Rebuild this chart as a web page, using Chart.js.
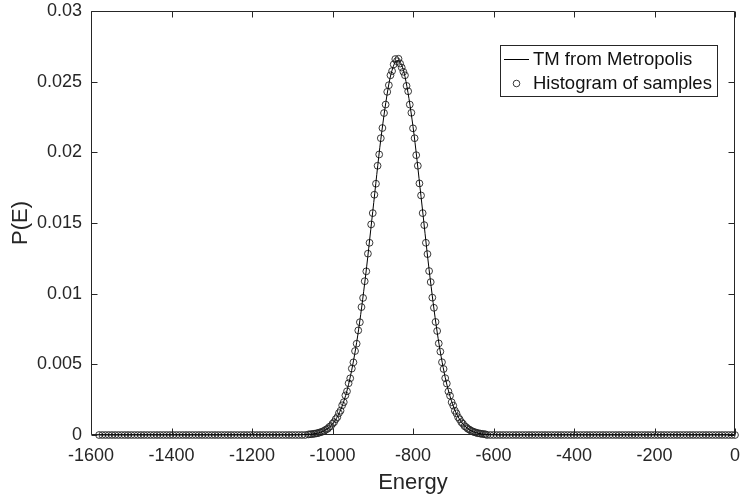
<!DOCTYPE html>
<html>
<head>
<meta charset="utf-8">
<script src="https://cdn.jsdelivr.net/npm/chart.js@4.4.1/dist/chart.umd.min.js"></script>
<style>
html,body{margin:0;padding:0;background:#fff;}
#wrap{width:740px;height:496px;}
</style>
</head>
<body>
<div id="wrap"><canvas id="c" width="740" height="496"></canvas></div>
<script>
// ---------------- DATA ----------------
const seriesNames = ['TM from Metropolis', 'Histogram of samples'];

const xTickValues = [-1600, -1400, -1200, -1000, -800, -600, -400, -200, 0];
const xTickLabels = ['-1600', '-1400', '-1200', '-1000', '-800', '-600', '-400', '-200', '0'];
const yTickValues = [0, 0.005, 0.01, 0.015, 0.02, 0.025, 0.03];
const yTickLabels = ['0', '0.005', '0.01', '0.015', '0.02', '0.025', '0.03'];

// "TM from Metropolis" curve
const lineEnergy = [-1580, -1100, -1060, -1040, -1020, -1000, -980, -960, -940, -920, -900, -880, -860, -850, -840, -830, -820, -800, -780, -760, -740, -720, -700, -680, -660, -640, -620, -580, 0];
const lineProb = [0, 0, 0.00004, 0.00011, 0.00031, 0.00078, 0.00176, 0.00359, 0.00655, 0.01074, 0.01581, 0.02091, 0.02483, 0.02599, 0.02649, 0.02627, 0.02537, 0.02183, 0.01686, 0.01170, 0.00729, 0.00408, 0.00205, 0.00093, 0.00038, 0.00014, 0.00004, 0, 0];

// Histogram of samples: left tail (all ~0)
const histLeftEnergy = [
  -1580,-1572,-1564,-1556,-1548,-1540,-1532,-1524,-1516,-1508,
  -1500,-1492,-1484,-1476,-1468,-1460,-1452,-1444,-1436,-1428,
  -1420,-1412,-1404,-1396,-1388,-1380,-1372,-1364,-1356,-1348,
  -1340,-1332,-1324,-1316,-1308,-1300,-1292,-1284,-1276,-1268,
  -1260,-1252,-1244,-1236,-1228,-1220,-1212,-1204,-1196,-1188,
  -1180,-1172,-1164,-1156,-1148,-1140,-1132,-1124,-1116,-1108,
  -1100,-1092,-1084,-1076,-1068];
const histLeftProb = [
  0,0,0,0,0,0,0,0,0,0,
  0,0,0,0,0,0,0,0,0,0,
  0,0,0,0,0,0,0,0,0,0,
  0,0,0,0,0,0,0,0,0,0,
  0,0,0,0,0,0,0,0,0,0,
  0,0,0,0,0,0,0,0,0,0,
  0,0,0,0,0];

// Histogram of samples: peak region
const histCoreEnergy = [
  -1060,-1056,-1052,-1048,-1044,-1040,-1036,-1032,-1028,-1024,
  -1020,-1016,-1012,-1008,-1004,-1000,-996,-992,-988,-984,
  -980,-976,-972,-968,-964,-960,-956,-952,-948,-944,
  -940,-936,-932,-928,-924,-920,-916,-912,-908,-904,
  -900,-896,-892,-888,-884,-880,-876,-872,-868,-864,
  -860,-856,-852,-848,-844,-840,-836,-832,-828,-824,
  -820,-816,-812,-808,-804,-800,-796,-792,-788,-784,
  -780,-776,-772,-768,-764,-760,-756,-752,-748,-744,
  -740,-736,-732,-728,-724,-720,-716,-712,-708,-704,
  -700,-696,-692,-688,-684,-680,-676,-672,-668,-664,
  -660,-656,-652,-648,-644,-640,-636,-632,-628,-624,
  -620];
const histCoreProb = [
  0.00004,0.00005,0.00006,0.00008,0.00009,0.00012,0.00013,0.00018,0.00020,0.00026,
  0.00030,0.00039,0.00044,0.00057,0.00063,0.00080,0.00091,0.00112,0.00126,0.00155,
  0.00172,0.00210,0.00232,0.00280,0.00309,0.00366,0.00401,0.00470,0.00514,0.00594,
  0.00646,0.00740,0.00798,0.00905,0.00970,0.01088,0.01158,0.01283,0.01360,0.01490,
  0.01570,0.01700,0.01778,0.01905,0.01985,0.02100,0.02172,0.02278,0.02338,0.02428,
  0.02475,0.02545,0.02575,0.02622,0.02660,0.02645,0.02662,0.02628,0.02600,0.02570,
  0.02545,0.02470,0.02432,0.02338,0.02280,0.02170,0.02100,0.01980,0.01905,0.01780,
  0.01695,0.01570,0.01485,0.01360,0.01280,0.01160,0.01082,0.00972,0.00900,0.00800,
  0.00736,0.00648,0.00590,0.00515,0.00467,0.00402,0.00364,0.00308,0.00278,0.00232,
  0.00208,0.00172,0.00153,0.00126,0.00111,0.00091,0.00080,0.00063,0.00056,0.00044,
  0.00039,0.00030,0.00026,0.00020,0.00018,0.00013,0.00012,0.00009,0.00008,0.00006,
  0.00005];

// Histogram of samples: right tail (all ~0)
const histRightEnergy = [
  -616,-608,-600,-592,-584,-576,-568,-560,-552,-544,
  -536,-528,-520,-512,-504,-496,-488,-480,-472,-464,
  -456,-448,-440,-432,-424,-416,-408,-400,-392,-384,
  -376,-368,-360,-352,-344,-336,-328,-320,-312,-304,
  -296,-288,-280,-272,-264,-256,-248,-240,-232,-224,
  -216,-208,-200,-192,-184,-176,-168,-160,-152,-144,
  -136,-128,-120,-112,-104,-96,-88,-80,-72,-64,
  -56,-48,-40,-32,-24,-16,-8,0];
const histRightProb = [
  0,0,0,0,0,0,0,0,0,0,
  0,0,0,0,0,0,0,0,0,0,
  0,0,0,0,0,0,0,0,0,0,
  0,0,0,0,0,0,0,0,0,0,
  0,0,0,0,0,0,0,0,0,0,
  0,0,0,0,0,0,0,0,0,0,
  0,0,0,0,0,0,0,0,0,0,
  0,0,0,0,0,0,0,0];

// ---------------- BUILD ----------------
const FONT = "'Liberation Sans', Arial, Helvetica, sans-serif";
const AXIS = '#262626';

function pairs(xs, ys) { return xs.map((x, i) => ({ x: x, y: ys[i] })); }
const lineData = pairs(lineEnergy, lineProb);
const histData = pairs(histLeftEnergy, histLeftProb)
  .concat(pairs(histCoreEnergy, histCoreProb))
  .concat(pairs(histRightEnergy, histRightProb));

function zeroPad(s) { s.paddingTop = 0; s.paddingBottom = 0; s.paddingLeft = 0; s.paddingRight = 0; }

const boxPlugin = {
  id: 'matlabBox',
  beforeDatasetsDraw(chart) {
    const { ctx, chartArea: a, scales } = chart;
    const L = Math.round(a.left) + 0.5, R = Math.round(a.right) - 0.5;
    const T = Math.round(a.top) + 0.5, B = Math.round(a.bottom) - 0.5;
    ctx.save();
    ctx.strokeStyle = AXIS;
    ctx.lineWidth = 1;
    ctx.beginPath();
    ctx.rect(L, T, R - L, B - T);
    const tl = 6;
    xTickValues.forEach(v => {
      const px = Math.round(scales.x.getPixelForValue(v)) + 0.5;
      ctx.moveTo(px, B); ctx.lineTo(px, B - tl);
      ctx.moveTo(px, T); ctx.lineTo(px, T + tl);
    });
    yTickValues.forEach(v => {
      const py = Math.round(scales.y.getPixelForValue(v)) + 0.5;
      ctx.moveTo(L, py); ctx.lineTo(L + tl, py);
      ctx.moveTo(R, py); ctx.lineTo(R - tl, py);
    });
    ctx.stroke();
    ctx.restore();
  }
};

const legendPlugin = {
  id: 'matlabLegend',
  afterDraw(chart) {
    const { ctx, chartArea: a } = chart;
    const names = chart.data.datasets.map(d => d.label);
    ctx.save();
    ctx.font = '18.5px ' + FONT;
    const textW = Math.max.apply(null, names.map(n => ctx.measureText(n).width));
    const textX0 = 33;
    const w = Math.round(textX0 + textW + 6);
    const h = 52;
    const right = Math.round(a.right) - 17;
    const top = Math.round(a.top) + 34;
    const left = right - w;
    ctx.fillStyle = '#fff';
    ctx.fillRect(left, top, w, h);
    ctx.strokeStyle = AXIS;
    ctx.lineWidth = 1;
    ctx.strokeRect(left + 0.5, top + 0.5, w - 1, h - 1);
    // line sample
    ctx.strokeStyle = '#000';
    ctx.beginPath();
    ctx.moveTo(left + 4, top + 14.5);
    ctx.lineTo(left + 29, top + 14.5);
    ctx.stroke();
    // circle sample
    ctx.strokeStyle = '#222';
    ctx.lineWidth = 0.9;
    ctx.beginPath();
    ctx.arc(left + 16.5, top + 38.5, 3.3, 0, Math.PI * 2);
    ctx.stroke();
    ctx.fillStyle = '#111';
    ctx.textAlign = 'left';
    ctx.textBaseline = 'middle';
    ctx.fillText(names[0], left + textX0, top + 15);
    ctx.fillText(names[1], left + textX0, top + 39);
    ctx.restore();
  }
};

new Chart(document.getElementById('c'), {
  type: 'scatter',
  data: {
    datasets: [
      {
        label: seriesNames[0],
        data: lineData,
        showLine: true,
        borderColor: '#000',
        borderWidth: 1,
        pointRadius: 0,
        cubicInterpolationMode: 'monotone',
        clip: false
      },
      {
        label: seriesNames[1],
        data: histData,
        showLine: false,
        pointStyle: 'circle',
        pointRadius: 3.4,
        borderColor: '#222',
        borderWidth: 0.9,
        backgroundColor: 'rgba(0,0,0,0)',
        clip: false
      }
    ]
  },
  options: {
    responsive: false,
    animation: false,
    devicePixelRatio: 1,
    layout: { padding: { left: 0, right: 5, top: 11, bottom: 0 } },
    plugins: { legend: { display: false }, tooltip: { enabled: false } },
    scales: {
      x: {
        type: 'linear',
        min: -1600, max: 0,
        afterBuildTicks: s => { s.ticks = xTickValues.map(v => ({ value: v })); },
        afterFit: s => { s.height = 61; zeroPad(s); },
        ticks: {
          callback: v => { const i = xTickValues.indexOf(v); return i >= 0 ? xTickLabels[i] : ''; },
          font: { family: FONT, size: 18 },
          color: AXIS,
          padding: 10,
          maxRotation: 0,
          autoSkip: false
        },
        grid: { display: false, drawTicks: false },
        border: { display: false },
        title: { display: true, text: 'Energy', font: { family: FONT, size: 22 }, color: AXIS, padding: 0 }
      },
      y: {
        type: 'linear',
        min: 0, max: 0.03,
        afterBuildTicks: s => { s.ticks = yTickValues.map(v => ({ value: v })); },
        afterFit: s => { s.width = 91; zeroPad(s); },
        ticks: {
          callback: v => { const i = yTickValues.findIndex(t => Math.abs(t - v) < 1e-9); return i >= 0 ? yTickLabels[i] : ''; },
          font: { family: FONT, size: 18 },
          color: AXIS,
          padding: 9,
          autoSkip: false
        },
        grid: { display: false, drawTicks: false },
        border: { display: false },
        title: { display: true, text: 'P(E)', font: { family: FONT, size: 22 }, color: AXIS, padding: { top: 8, bottom: 0 } }
      }
    }
  },
  plugins: [boxPlugin, legendPlugin]
});
</script>
</body>
</html>
